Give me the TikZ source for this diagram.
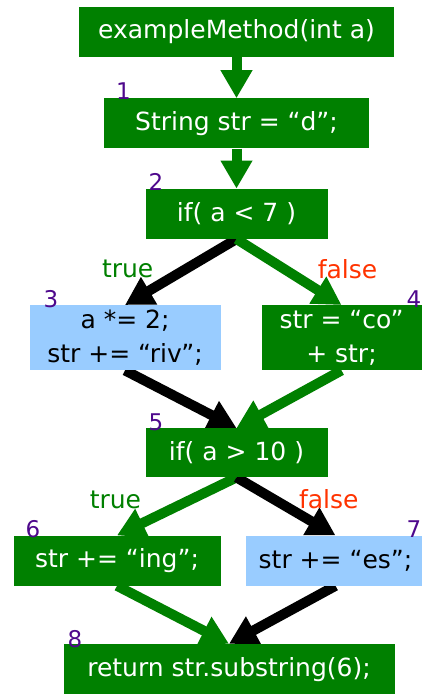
\documentclass[tikz,border=0pt]{standalone}
\usepackage{fontspec}
\setmainfont{DejaVu Sans}
\usepackage{tikz}
\usetikzlibrary{arrows.meta,positioning,backgrounds}
\usepackage{xcolor}
\definecolor{stmtgreen}{RGB}{0,128,0}
\definecolor{hitblue}{RGB}{153,204,255}
\definecolor{numpurple}{RGB}{78,8,140}
\definecolor{falsered}{RGB}{255,51,0}

\begin{document}
\begin{tikzpicture}[
  x=1pt, y=-1pt,
  stmt/.style={fill=stmtgreen, text=white, align=center, minimum height=50pt, inner sep=0pt, font=\fontsize{25}{34}\selectfont},
  hit/.style={stmt, fill=hitblue, text=black},
  num/.style={text=numpurple, anchor=base west, inner sep=0pt, font=\fontsize{23}{26}\selectfont},
  cond/.style={inner sep=0pt, font=\fontsize{25}{28}\selectfont},
  flow/.style={line width=10pt, -{Triangle[length=28pt, width=30pt]}}
]
\useasboundingbox (0,0) rectangle (421,694);
\node[stmt, minimum width=315pt] (entry) at (236.5,32) {exampleMethod(int a)};
\node[stmt, minimum width=265pt, below=41pt of entry] (s1) {String str = “d”;};
\node[stmt, minimum width=182pt, below=40pt of s1] (s2) {if( a < 7 )};
\node[hit, minimum width=191pt, minimum height=65pt, below=66pt of s2, xshift=-111.5pt] (s3) {a *= 2;\\str += “riv”;};
\node[stmt, minimum width=160pt, minimum height=65pt, below=66pt of s2, xshift=105pt] (s4) {str = “co”\\+ str;};
\node[stmt, minimum width=182pt, minimum height=49pt, below=189pt of s2] (s5) {if( a > 10 )};
\node[stmt, minimum width=207pt, below=58pt of s5, xshift=-119.5pt] (s6) {str += “ing”;};
\node[hit, minimum width=180pt, below=58pt of s5, xshift=99pt] (s7) {str += “es”;};
\node[stmt, minimum width=331pt, minimum height=52pt, below=58pt of s6, xshift=112pt] (s8) {return str.substring(6);};

% statement numbers
\node[num] (n1) at ([xshift=12pt,yshift=-1pt]s1.north west) {1};
\node[num] (n2) at ([xshift=3pt,yshift=-2pt]s2.north west) {2};
\node[num] (n3) at ([xshift=14pt,yshift=-2pt]s3.north west) {3};
\node[num] (n4) at ([xshift=145pt,yshift=-2pt]s4.north west) {4};
\node[num] (n5) at ([xshift=3pt,yshift=-2pt]s5.north west) {5};
\node[num] (n6) at ([xshift=12pt,yshift=-2pt]s6.north west) {6};
\node[num] (n7) at ([xshift=161pt,yshift=-2pt]s7.north west) {7};
\node[num] (n8) at ([xshift=4pt,yshift=-4pt]s8.north west) {8};

\begin{scope}[on background layer]
\draw[flow, draw=stmtgreen] (entry) -- (s1);
\draw[flow, draw=stmtgreen] (s1) -- (s2);
\draw[flow, draw=black] (s2.south) -- node[cond, pos=0.45, left=28pt, text=stmtgreen]{true} (s3.north);
\draw[flow, draw=stmtgreen] (s2.south) -- node[cond, pos=0.45, right=29pt, text=falsered]{false} (s4.north);
\draw[flow, draw=black] (s3.south) -- (s5.north);
\draw[flow, draw=stmtgreen] (s4.south) -- (s5.north);
\draw[flow, draw=stmtgreen] (s5.south) -- node[cond, pos=0.38, left=45pt, text=stmtgreen]{true} (s6.north);
\draw[flow, draw=black] (s5.south) -- node[cond, pos=0.38, right=20pt, text=falsered]{false} (s7.north);
\draw[flow, draw=stmtgreen] (s6.south) -- (s8.north);
\draw[flow, draw=black] (s7.south) -- (s8.north);
\end{scope}
\end{tikzpicture}
\end{document}
